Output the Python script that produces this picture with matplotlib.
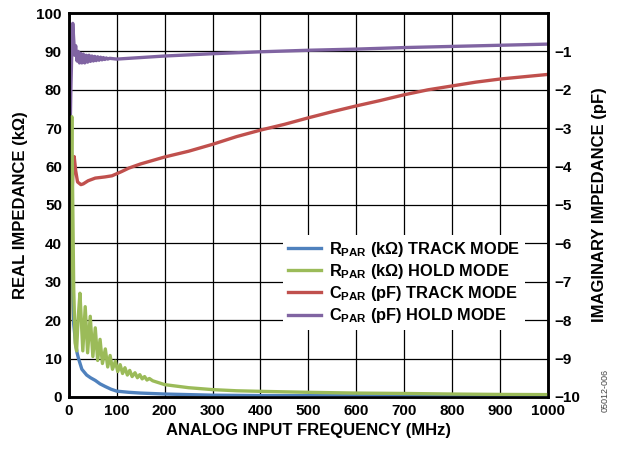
import matplotlib
matplotlib.use("Agg")
import matplotlib.pyplot as plt
import numpy as np

plt.rcParams['font.family'] = ['Liberation Sans', 'DejaVu Sans']
plt.rcParams['font.weight'] = 'bold'
plt.rcParams['mathtext.fontset'] = 'custom'
plt.rcParams['mathtext.rm'] = 'Liberation Sans:bold'
plt.rcParams['mathtext.default'] = 'rm'

# R_PAR track mode (kOhm)
f_rt = [0, 3, 6, 8, 10, 14, 17, 20, 27, 37, 45, 55, 65, 76, 88, 100, 125, 150,
        200, 300, 400, 600, 800, 1000]
r_track = [65, 55, 45, 30, 19, 14, 11.5, 10, 7.2, 5.7, 5.0, 4.3, 3.4, 2.7, 2.0, 1.5,
           1.2, 1.0, 0.75, 0.45, 0.35, 0.3, 0.27, 0.25]

# R_PAR hold mode (kOhm)
f_rh = [0, 2, 4, 6, 8, 10, 13, 16, 19, 23, 29, 34, 39, 44.5, 50, 55, 60, 65, 70,
        76, 81, 86, 91, 97, 102, 107, 112, 117, 122, 127, 132, 138, 143, 148, 153,
        158, 163, 168, 175, 200, 250, 300, 350, 400, 500, 600, 700, 800, 900, 1000]
r_hold = [10, 25, 55, 73, 50, 28, 14, 12, 20, 27, 12, 23.5, 11.5, 21, 10.5, 18, 9.5,
          15, 8.7, 12.5, 7.8, 10.8, 7.2, 9.3, 6.6, 8.4, 6.1, 7.6, 5.7, 6.9, 5.3, 6.3,
          5.0, 5.8, 4.7, 5.3, 4.4, 4.8, 4.2, 3.2, 2.4, 1.9, 1.6, 1.45, 1.2, 1.0, 0.9,
          0.75, 0.65, 0.6]

# C_PAR track mode (pF)
f_ct = [0, 1, 4, 6, 9, 11, 14, 18, 25, 30, 40, 55, 75, 90, 110, 125, 150, 200, 250,
        300, 350, 400, 450, 500, 550, 600, 650, 700, 750, 800, 850, 900, 950, 1000]
c_track = [-9.3, -8.1, -6.0, -4.8, -4.0, -3.74, -4.1, -4.4, -4.47, -4.45, -4.37, -4.3,
           -4.27, -4.24, -4.13, -4.04, -3.93, -3.75, -3.6, -3.42, -3.22, -3.05, -2.9,
           -2.73, -2.57, -2.42, -2.28, -2.13, -2.0, -1.9, -1.8, -1.72, -1.66, -1.6]

# C_PAR hold mode (pF)
f_ch = [0, 1, 2, 4, 6, 8, 10, 12, 14, 17, 19.5, 22, 24.5, 27, 30, 33, 36, 39, 42, 45,
        48, 51, 54, 57, 60, 63, 66, 69, 72, 75, 78, 81, 85, 100, 150, 200, 300, 400,
        500, 600, 700, 800, 900, 1000]
c_hold = [-10, -6, -3.5, -2.0, -1.0, -0.27, -0.7, -1.1, -0.85, -1.25, -1.0, -1.3,
          -1.05, -1.3, -1.07, -1.3, -1.1, -1.28, -1.1, -1.26, -1.12, -1.25, -1.13,
          -1.24, -1.14, -1.23, -1.15, -1.22, -1.16, -1.21, -1.17, -1.2, -1.18, -1.2,
          -1.16, -1.12, -1.06, -1.01, -0.97, -0.94, -0.9, -0.87, -0.84, -0.81]

fig = plt.figure(figsize=(6.21, 4.49), dpi=100)
ax = fig.add_subplot(111)
ax2 = ax.twinx()
fig.subplots_adjust(left=0.111, right=0.882, top=0.971, bottom=0.116)

# right axis underneath, carries the grid
ax.set_zorder(ax2.get_zorder() + 1)
ax.patch.set_visible(False)
ax2.xaxis.set_visible(True)
ax2.tick_params(axis='x', labelbottom=False, labeltop=False, length=0)

lw = 2.4
l3, = ax2.plot(f_ct, c_track, color='#C0504D', lw=lw)
l4, = ax2.plot(f_ch, c_hold, color='#8064A2', lw=lw)
l1, = ax.plot(f_rt, r_track, color='#4F81BD', lw=lw)
l2, = ax.plot(f_rh, r_hold, color='#9BBB59', lw=lw)

ax.set_xlim(0, 1000)
ax.set_ylim(0, 100)
ax2.set_ylim(-10, 0)
ax.set_xticks(np.arange(0, 1001, 100))
ax2.set_xticks(np.arange(0, 1001, 100))
ax.set_yticks(np.arange(0, 101, 10))
ax2.set_yticks(np.arange(-10, 0, 1))
ax2.grid(True, axis='both', color='black', lw=0.9)
ax2.set_axisbelow(True)

for a in (ax, ax2):
    a.tick_params(length=0, labelsize=11, pad=5)
    for s in a.spines.values():
        s.set_linewidth(1.8)

ax.set_xlabel('ANALOG INPUT FREQUENCY (MHz)', fontsize=12, fontweight='bold', labelpad=4)
ax.set_ylabel('REAL IMPEDANCE (k\u03a9)', fontsize=12, fontweight='bold', labelpad=6)
ax2.set_ylabel('IMAGINARY IMPEDANCE (pF)', fontsize=12, fontweight='bold', labelpad=8)

labels = [r'R$_{\mathrm{PAR}}$ (k$\Omega$) TRACK MODE',
          r'R$_{\mathrm{PAR}}$ (k$\Omega$) HOLD MODE',
          r'C$_{\mathrm{PAR}}$ (pF) TRACK MODE',
          r'C$_{\mathrm{PAR}}$ (pF) HOLD MODE']
leg = ax.legend([l1, l2, l3, l4], labels, loc='center', bbox_to_anchor=(0.70, 0.298),
                frameon=True, fancybox=False, framealpha=1, edgecolor='none',
                fontsize=11.8, handlelength=2.0, labelspacing=0.2, borderpad=0.3,
                handletextpad=0.5)

fig.text(0.975, 0.13, '05012-006', rotation=90, fontsize=6.5, color='#444444',
         fontweight='normal', ha='center', va='center')

fig.savefig('out.png', dpi=100)
